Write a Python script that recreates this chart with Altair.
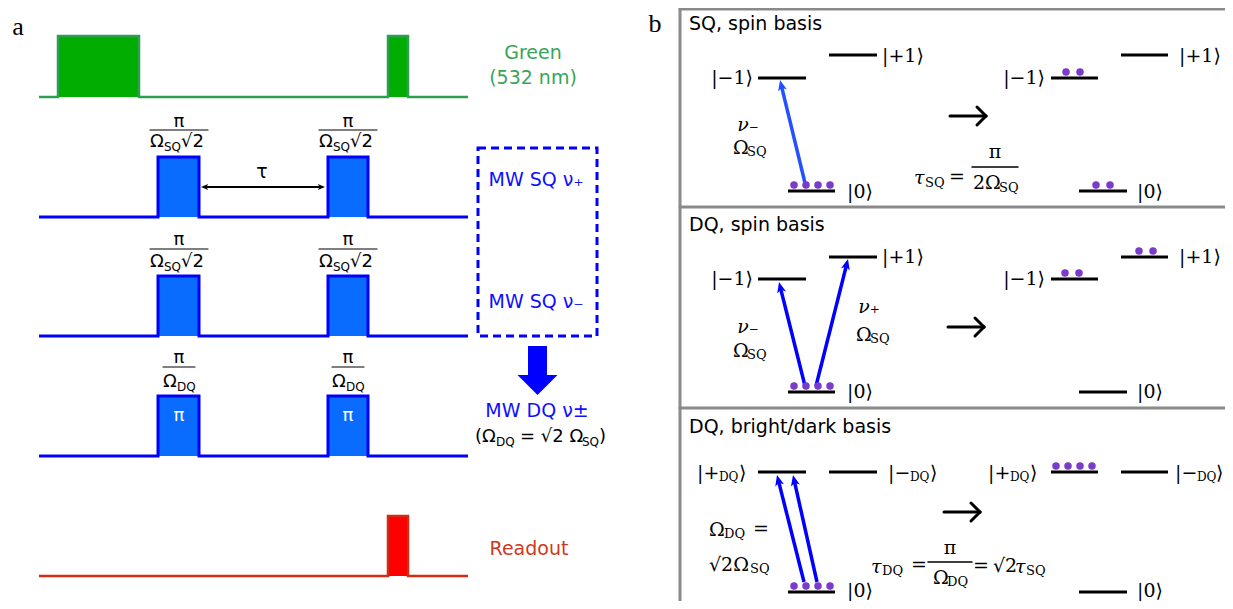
import math
import altair as alt
import pandas as pd

# ---------------- canvas (pixel-like coordinates of the figure) ----------------
W, H = 1217, 593
XDOM = [8, 8 + W]
YDOM = [8, 8 + H]

BLACK = "#000000"
GREEN_FILL, GREEN_LINE, GREEN_TEXT = "#00ad00", "#2f9e50", "#3aa458"
BLUE_FILL, BLUE_LINE, BLUE_TEXT = "#0a6cff", "#0000ff", "#1010ff"
RED_FILL, RED_LINE, RED_TEXT = "#ff0000", "#d42b14", "#d0381e"
PURPLE = "#7a3bc9"
GRAY = "#8a8a8a"
SQ_ARROW = "#2451ff"

# ---------------- panel a: pulse sequences ----------------
trace_names = ["green", "sq_plus", "sq_minus", "dq", "readout"]
trace_base = [97, 217, 336, 456, 576]
trace_top = [36, 157, 276, 396, 516]
trace_pulses = [
    [(58, 139), (388, 408)],
    [(158, 199), (328, 368)],
    [(158, 199), (328, 368)],
    [(158, 199), (328, 368)],
    [(388, 408)],
]
trace_line_color = [GREEN_LINE, BLUE_LINE, BLUE_LINE, BLUE_LINE, RED_LINE]
trace_fill_color = [GREEN_FILL, BLUE_FILL, BLUE_FILL, BLUE_FILL, RED_FILL]
trace_width = [2.5, 3, 3, 3, 2.5]
trace_start, trace_end = 39, 468

# ---------------- texts: (text, x, y, size, color, style) ----------------
texts = [
    ("a", 18, 27, 26, BLACK, "cm_c"),
    ("b", 655, 24, 26, BLACK, "cm_c"),
    ("Green", 533, 53, 19, GREEN_TEXT, "sans_c"),
    ("(532 nm)", 533, 78, 19, GREEN_TEXT, "sans_c"),
    ("τ", 262, 172, 19, BLACK, "sans_c"),
    ("MW SQ ν₊", 536, 180, 19, BLUE_TEXT, "sans_c"),
    ("MW SQ ν₋", 536, 302, 19, BLUE_TEXT, "sans_c"),
    ("MW DQ ν±", 537, 411, 19, BLUE_TEXT, "sans_c"),
    ("(Ω", 475, 437, 18, BLACK, "sans_l"),
    ("DQ", 496, 442, 12, BLACK, "sans_l"),
    ("= √2 Ω", 520, 437, 18, BLACK, "sans_l"),
    ("SQ", 582, 442, 12, BLACK, "sans_l"),
    (")", 599, 437, 18, BLACK, "sans_l"),
    ("Readout", 529, 549, 19, RED_TEXT, "sans_c"),
    # panel b titles
    ("SQ, spin basis", 689, 24, 19, BLACK, "sans_l"),
    ("DQ, spin basis", 689, 225, 19, BLACK, "sans_l"),
    ("DQ, bright/dark basis", 689, 427, 19, BLACK, "sans_l"),
    # section 1 kets
    ("|−1⟩", 753, 78, 19, BLACK, "serif_r"),
    ("|+1⟩", 882, 56, 19, BLACK, "serif_l"),
    ("|0⟩", 847, 192, 19, BLACK, "serif_l"),
    ("|−1⟩", 1045, 78, 19, BLACK, "serif_r"),
    ("|+1⟩", 1179, 56, 19, BLACK, "serif_l"),
    ("|0⟩", 1137, 192, 19, BLACK, "serif_l"),
    ("ν₋", 748, 125, 19, BLACK, "serifi_c"),
    ("Ω", 733, 148, 19, BLACK, "serif_l"),
    ("SQ", 747, 152, 13, BLACK, "serif_l"),
    ("τ", 914, 178, 19, BLACK, "serifi_l"),
    ("SQ", 925, 183, 13, BLACK, "serif_l"),
    ("=", 957, 177, 19, BLACK, "serif_c"),
    ("π", 995, 152, 19, BLACK, "serif_c"),
    ("2Ω", 973, 183, 19, BLACK, "serif_l"),
    ("SQ", 999, 188, 13, BLACK, "serif_l"),
    # section 2
    ("|−1⟩", 753, 279, 19, BLACK, "serif_r"),
    ("|+1⟩", 882, 257, 19, BLACK, "serif_l"),
    ("|0⟩", 847, 392, 19, BLACK, "serif_l"),
    ("|−1⟩", 1045, 279, 19, BLACK, "serif_r"),
    ("|+1⟩", 1179, 257, 19, BLACK, "serif_l"),
    ("|0⟩", 1137, 392, 19, BLACK, "serif_l"),
    ("ν₋", 748, 327, 19, BLACK, "serifi_c"),
    ("Ω", 733, 351, 19, BLACK, "serif_l"),
    ("SQ", 747, 355, 13, BLACK, "serif_l"),
    ("ν₊", 869, 307, 19, BLACK, "serifi_c"),
    ("Ω", 856, 335, 19, BLACK, "serif_l"),
    ("SQ", 870, 339, 13, BLACK, "serif_l"),
    # section 3
    ("|+", 697, 473, 19, BLACK, "serif_l"),
    ("DQ", 719, 477, 12, BLACK, "serif_l"),
    ("⟩", 739, 473, 19, BLACK, "serif_l"),
    ("|−", 888, 473, 19, BLACK, "serif_l"),
    ("DQ", 910, 477, 12, BLACK, "serif_l"),
    ("⟩", 930, 473, 19, BLACK, "serif_l"),
    ("|+", 988, 473, 19, BLACK, "serif_l"),
    ("DQ", 1010, 477, 12, BLACK, "serif_l"),
    ("⟩", 1030, 473, 19, BLACK, "serif_l"),
    ("|−", 1175, 473, 19, BLACK, "serif_l"),
    ("DQ", 1197, 477, 12, BLACK, "serif_l"),
    ("⟩", 1216, 473, 19, BLACK, "serif_l"),
    ("|0⟩", 847, 591, 19, BLACK, "serif_l"),
    ("|0⟩", 1137, 591, 19, BLACK, "serif_l"),
    ("Ω", 709, 530, 19, BLACK, "serif_l"),
    ("DQ", 724, 534, 13, BLACK, "serif_l"),
    ("=", 761, 529, 19, BLACK, "serif_c"),
    ("√2Ω", 709, 565, 19, BLACK, "serif_l"),
    ("SQ", 750, 569, 13, BLACK, "serif_l"),
    ("τ", 871, 567, 19, BLACK, "serifi_l"),
    ("DQ", 882, 571, 13, BLACK, "serif_l"),
    ("=", 919, 565, 19, BLACK, "serif_c"),
    ("π", 950, 548, 19, BLACK, "serif_c"),
    ("Ω", 933, 578, 19, BLACK, "serif_l"),
    ("DQ", 947, 582, 13, BLACK, "serif_l"),
    ("=", 981, 566, 19, BLACK, "serif_c"),
    ("√2", 993, 566, 19, BLACK, "serif_l"),
    ("τ", 1015, 567, 19, BLACK, "serifi_l"),
    ("SQ", 1026, 571, 13, BLACK, "serif_l"),
]

# fraction labels over pulses (pulse centres)
pulse_centres = [179, 348]
for c in pulse_centres:
    for ypi, yom in [(122, 142), (240, 262)]:
        texts += [
            ("π", c, ypi, 18, BLACK, "sans_c"),
            ("Ω", c - 29, yom, 18, BLACK, "sans_l"),
            ("SQ", c - 15, yom + 5, 12, BLACK, "sans_l"),
            ("√2", c + 2, yom, 18, BLACK, "sans_l"),
        ]
    texts += [
        ("π", c, 358, 18, BLACK, "sans_c"),
        ("Ω", c - 16, 382, 18, BLACK, "sans_l"),
        ("DQ", c - 2, 387, 12, BLACK, "sans_l"),
        ("π", c, 416, 18, "#ffffff", "sans_c"),
    ]

styles = {
    "sans_c": dict(font="DejaVu Sans", align="center"),
    "sans_l": dict(font="DejaVu Sans", align="left"),
    "serif_c": dict(font="DejaVu Serif", align="center"),
    "serif_l": dict(font="DejaVu Serif", align="left"),
    "serif_r": dict(font="DejaVu Serif", align="right"),
    "serifi_c": dict(font="DejaVu Serif", align="center", fontStyle="italic"),
    "serifi_l": dict(font="DejaVu Serif", align="left", fontStyle="italic"),
    "cm_c": dict(font="Liberation Serif", align="center"),
}

# ---------------- straight rules: (x, y, x2, y2, color, width) ----------------
rules = [
    (680, 9, 1240, 9, GRAY, 3),
    (680, 207, 1240, 207, GRAY, 3),
    (680, 408, 1240, 408, GRAY, 3),
    (680, 9, 680, 640, GRAY, 3),
    (972, 167, 1018, 167, BLACK, 1.5),
    (928, 562, 972, 562, BLACK, 1.5),
]
for c in pulse_centres:
    rules += [
        (c - 29, 130, c + 29, 130, BLACK, 1.2),
        (c - 29, 249, c + 29, 249, BLACK, 1.2),
        (c - 16, 367, c + 16, 367, BLACK, 1.2),
    ]

# "reaction" arrows (centre x, centre y) drawn as shaft + open chevron
react_cx = [968, 966, 962]
react_cy = [116, 327, 512]
REACT_HALF = 18
for cx, cy in zip(react_cx, react_cy):
    rules += [
        (cx - REACT_HALF, cy, cx + REACT_HALF, cy, BLACK, 3),
        (cx + REACT_HALF, cy, cx + REACT_HALF - 9, cy - 9, BLACK, 3),
        (cx + REACT_HALF, cy, cx + REACT_HALF - 9, cy + 9, BLACK, 3),
    ]

# ---------------- energy levels (x, x2, y) ----------------
level_x0 = [758, 829, 788, 1051, 1121, 1079,
            758, 829, 788, 1051, 1121, 1079,
            758, 829, 788, 1051, 1121, 1079]
level_x1 = [806, 877, 835, 1098, 1168, 1127,
            806, 877, 835, 1098, 1168, 1127,
            806, 877, 835, 1098, 1168, 1127]
level_y = [78, 55, 191, 78, 55, 191,
           279, 257, 392, 279, 257, 392,
           472, 472, 592, 472, 472, 592]

# ---------------- populations (dots) ----------------
dot_x = [794, 806, 818, 830, 1066, 1080, 1096, 1110,
         794, 806, 818, 830, 1065, 1079, 1139, 1153,
         794, 806, 818, 830, 1056, 1068, 1080, 1092]
dot_y = [185, 185, 185, 185, 72, 72, 185, 185,
         386, 386, 386, 386, 273, 273, 251, 251,
         586, 586, 586, 586, 466, 466, 466, 466]

# ---------------- transition arrows: tail -> tip ----------------
arr_x0 = [805, 805, 816, 804, 817]
arr_y0 = [183, 386, 386, 582, 582]
arr_x1 = [780, 779, 848, 777, 793]
arr_y1 = [80, 282, 259, 475, 475]
arr_col = [SQ_ARROW, BLUE_LINE, BLUE_LINE, BLUE_LINE, BLUE_LINE]

# tau double arrow
tau_x = [201, 325]
tau_y = 187

# ---------------- build tables ----------------
X = lambda f="x": alt.X(f"{f}:Q", scale=alt.Scale(domain=XDOM, nice=False, zero=False), axis=None)
Y = lambda f="y": alt.Y(f"{f}:Q", scale=alt.Scale(domain=YDOM, nice=False, zero=False, reverse=True), axis=None)

pulse_rows, line_rows = [], []
for i, name in enumerate(trace_names):
    pts = [(trace_start, trace_base[i])]
    for (a, b) in trace_pulses[i]:
        pulse_rows.append(dict(x=a, x2=b, y=trace_top[i], y2=trace_base[i], c=trace_fill_color[i]))
        pts += [(a, trace_base[i]), (a, trace_top[i]), (b, trace_top[i]), (b, trace_base[i])]
    pts.append((trace_end, trace_base[i]))
    for k, (px, py) in enumerate(pts):
        line_rows.append(dict(x=px, y=py, o=k, id=name, c=trace_line_color[i], w=trace_width[i]))
pulse_df = pd.DataFrame(pulse_rows)
line_df = pd.DataFrame(line_rows)

pulses = alt.Chart(pulse_df).mark_rect().encode(
    x=X(), x2="x2:Q", y=Y(), y2="y2:Q", fill=alt.Fill("c:N", scale=None))
traces = alt.Chart(line_df).mark_line(strokeJoin="miter").encode(
    x=X(), y=Y(), order="o:Q", detail="id:N",
    color=alt.Color("c:N", scale=None), strokeWidth=alt.StrokeWidth("w:Q", scale=None))

rule_df = pd.DataFrame(rules, columns=["x", "y", "x2", "y2", "c", "w"])
rule_layer = alt.Chart(rule_df).mark_rule(strokeCap="round").encode(
    x=X(), y=Y(), x2="x2:Q", y2="y2:Q",
    color=alt.Color("c:N", scale=None), strokeWidth=alt.StrokeWidth("w:Q", scale=None))

# dashed MW box
box_df = pd.DataFrame([dict(x=478, x2=597, y=148, y2=336)])
box = alt.Chart(box_df).mark_rect(fillOpacity=0, stroke=BLUE_LINE, strokeWidth=3,
                                  strokeDash=[8, 5]).encode(
    x=X(), x2="x2:Q", y=Y(), y2="y2:Q")

# big blue arrow
shaft_df = pd.DataFrame([dict(x=528, x2=547, y=346, y2=377)])
shaft = alt.Chart(shaft_df).mark_rect(color=BLUE_LINE).encode(x=X(), x2="x2:Q", y=Y(), y2="y2:Q")
bighead_df = pd.DataFrame([dict(x=537.5, y=385)])
bighead = alt.Chart(bighead_df).mark_point(
    shape="M-1,-0.5L1,-0.5L0,0.5Z", filled=True, opacity=1, color=BLUE_LINE, size=1600
).encode(x=X(), y=Y())

level_df = pd.DataFrame(dict(x=level_x0, x2=level_x1, y=level_y))
levels = alt.Chart(level_df).mark_rule(color=BLACK, strokeWidth=3).encode(x=X(), x2="x2:Q", y=Y())

dot_df = pd.DataFrame(dict(x=dot_x, y=dot_y))
dots = alt.Chart(dot_df).mark_circle(color=PURPLE, opacity=1, size=56).encode(x=X(), y=Y())

HEAD_SCALE = 6.0
head_rows, shaft_rows = [], []
for x0, y0, x1, y1, col in zip(arr_x0, arr_y0, arr_x1, arr_y1, arr_col):
    dx, dy = x1 - x0, y1 - y0
    L = math.hypot(dx, dy)
    ux, uy = dx / L, dy / L
    cx, cy = x1 - ux * HEAD_SCALE, y1 - uy * HEAD_SCALE
    ang = math.degrees(math.atan2(ux, -uy)) % 360
    head_rows.append(dict(x=cx, y=cy, a=ang, c=col, s=(2 * HEAD_SCALE) ** 2))
    shaft_rows.append(dict(x=x0, y=y0, x2=cx, y2=cy, c=col, w=3.5))
# tau arrow (both ends)
TS = 4.0
for tip, other in [(tau_x[0], tau_x[1]), (tau_x[1], tau_x[0])]:
    ux = 1 if tip > other else -1
    head_rows.append(dict(x=tip - ux * TS, y=tau_y, a=90 if ux > 0 else 270, c=BLACK, s=(2 * TS) ** 2))
shaft_rows.append(dict(x=tau_x[0] + TS, y=tau_y, x2=tau_x[1] - TS, y2=tau_y, c=BLACK, w=2))
arrow_shafts = alt.Chart(pd.DataFrame(shaft_rows)).mark_rule().encode(
    x=X(), y=Y(), x2="x2:Q", y2="y2:Q",
    color=alt.Color("c:N", scale=None), strokeWidth=alt.StrokeWidth("w:Q", scale=None))
arrow_heads = alt.Chart(pd.DataFrame(head_rows)).mark_point(
    shape="M0,-1L0.75,0.8L0,0.35L-0.75,0.8Z", filled=True, opacity=1
).encode(x=X(), y=Y(), angle=alt.Angle("a:Q", scale=None),
         color=alt.Color("c:N", scale=None), size=alt.Size("s:Q", scale=None))

text_df = pd.DataFrame(texts, columns=["t", "x", "y", "s", "c", "st"])
text_layers = []
for st, props in styles.items():
    sub = text_df[text_df["st"] == st]
    if len(sub) == 0:
        continue
    text_layers.append(
        alt.Chart(sub).mark_text(baseline="middle", **props).encode(
            x=X(), y=Y(), text="t:N",
            size=alt.Size("s:Q", scale=None), color=alt.Color("c:N", scale=None))
    )

chart = alt.layer(
    pulses, traces, box, shaft, bighead, rule_layer, levels,
    arrow_shafts, arrow_heads, dots, *text_layers
).properties(
    width=W, height=H, autosize=alt.AutoSizeParams(type="none"), padding=0,
    background="white"
).configure_view(stroke=None)

chart.save("out.html", embed_options={"renderer": "svg", "actions": False})
